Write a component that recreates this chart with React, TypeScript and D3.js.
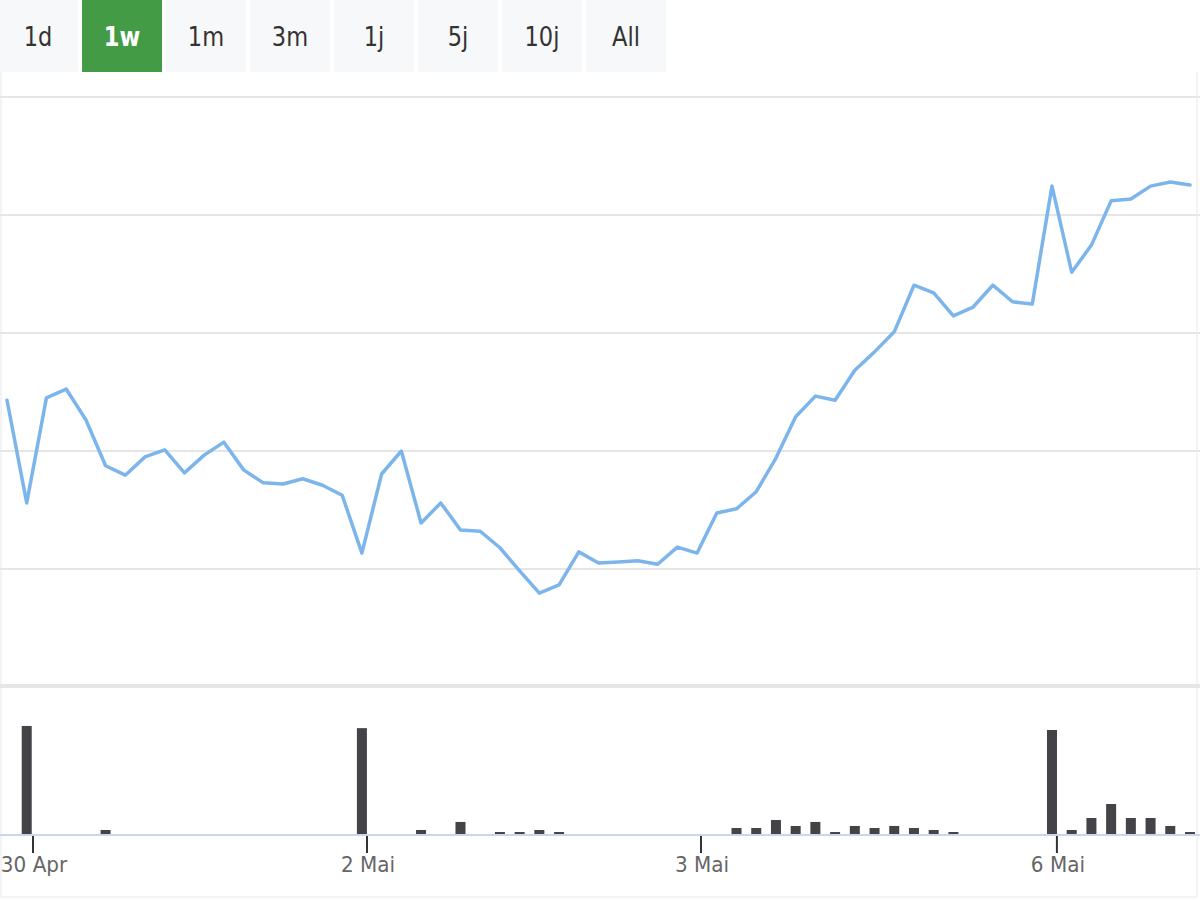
import React from "react";
import * as d3 from "d3";

const RANGE_BUTTONS = ["1d", "1w", "1m", "3m", "1j", "5j", "10j", "All"];
const SELECTED_RANGE = "1w";

const PRICE = [
  44.86, 43.12, 44.9, 45.05, 44.53, 43.75, 43.59, 43.9, 44.02, 43.63,
  43.93, 44.15, 43.68, 43.46, 43.44, 43.53, 43.42, 43.25, 42.27, 43.61,
  44.0, 42.78, 43.12, 42.66, 42.64, 42.36, 41.97, 41.59, 41.73, 42.29,
  42.1, 42.12, 42.14, 42.08, 42.37, 42.27, 42.95, 43.02, 43.31, 43.88,
  44.58, 44.93, 44.86, 45.37, 45.68, 46.02, 46.81, 46.68, 46.29, 46.44,
  46.81, 46.53, 46.49, 48.49, 47.03, 47.49, 48.24, 48.27, 48.49, 48.56,
  48.51,
];

const VOLUME = [
  0, 1480, 0, 0, 0, 55, 0, 0, 0, 0,
  0, 0, 0, 0, 0, 0, 0, 0, 1450, 0,
  0, 55, 0, 165, 0, 27, 27, 55, 27, 0,
  0, 0, 0, 0, 0, 0, 0, 82, 82, 192,
  110, 165, 27, 110, 82, 110, 82, 55, 27, 0,
  0, 0, 0, 1425, 55, 219, 411, 219, 219, 110,
  27,
];

const PRICE_TICKS = [40, 42, 44, 46, 48, 50];
const X_TICK_LABELS = ["30 Apr", "2 Mai", "3 Mai", "6 Mai"];
const X_TICK_POS = [1.32, 18.26, 35.2, 53.25];

const FONT = "'DejaVu Sans', 'Lucida Grande', sans-serif";

export default function App() {
  const W = 1200;
  const H = 900;
  const x = d3.scaleLinear().domain([0, PRICE.length - 1]).range([7, 1190]);
  const y = d3.scaleLinear().domain([40, 50]).range([687, 97]);
  const yv = d3.scaleLinear().domain([0, 2000]).range([834, 688]);
  const line = d3
    .line<number>()
    .x((_, i) => x(i))
    .y((d) => y(d));
  const barW = 10;

  return (
    <svg
      width={W}
      height={H}
      style={{ position: "absolute", left: 0, top: 0, background: "#fff" }}
      fontFamily={FONT}
    >
      <rect x={0} y={0} width={W} height={H} fill="#fff" />
      <path d="M1,72 V897 H1197 V72" fill="none" stroke="#f3f3f3" strokeWidth={2} />

      {RANGE_BUTTONS.map((b, i) => {
        const sel = b === SELECTED_RANGE;
        const bx = -2 + i * 84;
        return (
          <g key={b}>
            <rect x={bx} y={0} width={80} height={72} fill={sel ? "#449b45" : "#f7f8f9"} />
            <text
              transform={`translate(${bx + 40},46) scale(0.98,1.12)`}
              textAnchor="middle"
              fontSize={23}
              fill={sel ? "#ffffff" : "#333333"}
              fontWeight={sel ? "bold" : "normal"}
            >
              {b}
            </text>
          </g>
        );
      })}

      {PRICE_TICKS.map((t) => (
        <line key={t} x1={0} x2={W} y1={y(t)} y2={y(t)} stroke="#e6e6e6" strokeWidth={2} />
      ))}
      <rect x={0} y={684} width={W} height={4} fill="#e6e6e6" />

      <path d={line(PRICE) || ""} fill="none" stroke="#7cb5ec" strokeWidth={3.5} strokeLinejoin="round" strokeLinecap="round" />

      {VOLUME.map((v, i) =>
        v > 0 ? (
          <rect key={i} x={x(i) - barW / 2} y={yv(v)} width={barW} height={yv(0) - yv(v)} fill="#434348" />
        ) : null
      )}

      <line x1={0} x2={W} y1={835} y2={835} stroke="#ccd6eb" strokeWidth={2} />
      {X_TICK_POS.map((p, i) => (
        <g key={X_TICK_LABELS[i]}>
          <line x1={x(p)} x2={x(p)} y1={836} y2={853} stroke="#333" strokeWidth={2} />
          <text
            transform={`translate(${x(p) + 1},872) scale(1,1.1)`}
            textAnchor="middle"
            fontSize={20}
            fill="#666666"
          >
            {X_TICK_LABELS[i]}
          </text>
        </g>
      ))}
    </svg>
  );
}
